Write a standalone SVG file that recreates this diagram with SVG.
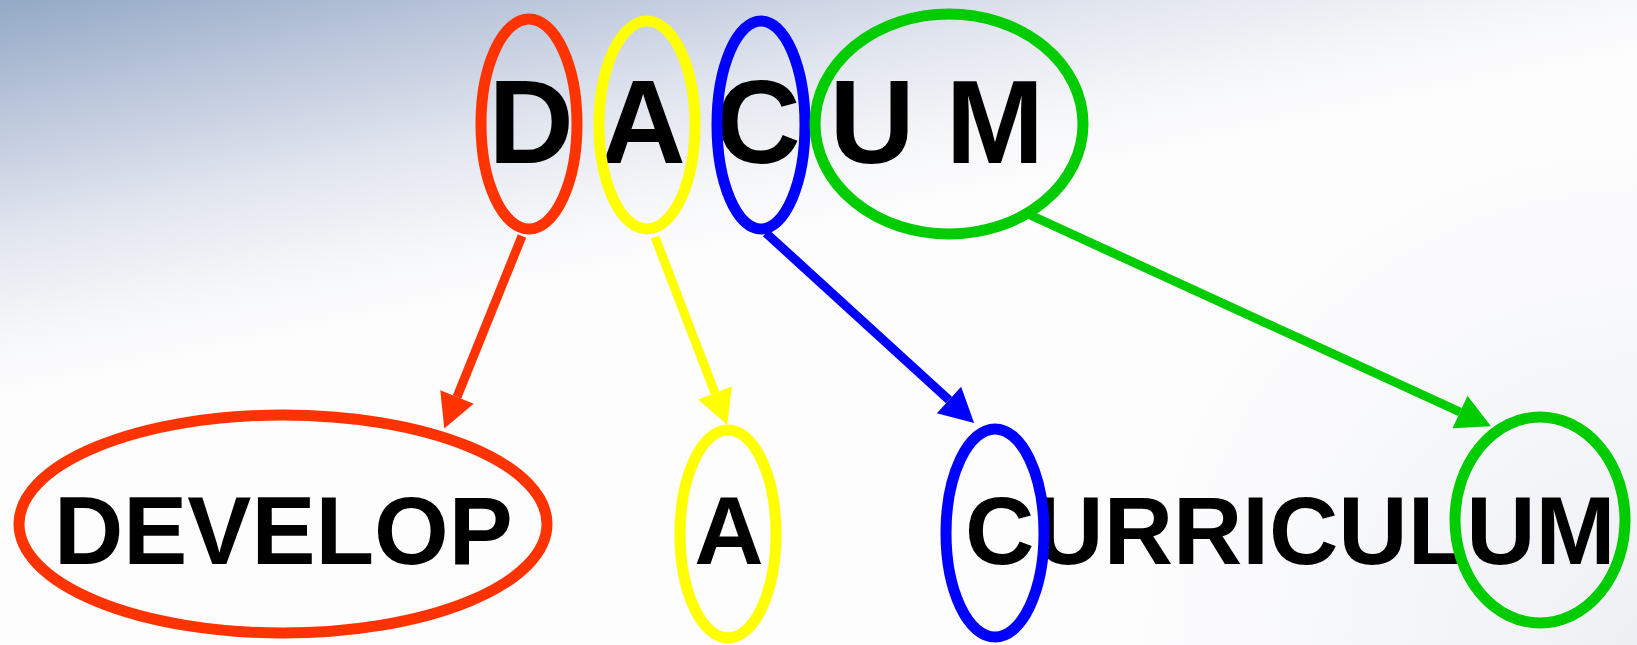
<svg xmlns="http://www.w3.org/2000/svg" width="1637" height="645" viewBox="0 0 1637 645">
  <defs>
    <linearGradient id="bg" gradientUnits="userSpaceOnUse" x1="0" y1="0" x2="80" y2="380">
      <stop offset="0" stop-color="#93a9c5"/>
      <stop offset="0.3" stop-color="#bdc8dc"/>
      <stop offset="0.6" stop-color="#e2e6ef"/>
      <stop offset="0.85" stop-color="#f6f7f9"/>
      <stop offset="1" stop-color="#fdfdfe"/>
    </linearGradient>
    <radialGradient id="corner" gradientUnits="userSpaceOnUse" cx="1637" cy="645" r="500">
      <stop offset="0" stop-color="#e4e7ee" stop-opacity="0.6"/>
      <stop offset="1" stop-color="#e4e7ee" stop-opacity="0"/>
    </radialGradient>
    <marker id="head-red" markerUnits="userSpaceOnUse" markerWidth="40" markerHeight="40" refX="0" refY="0" orient="auto" overflow="visible">
      <path d="M0,-18 L34,0 L0,18 Z" fill="#ff3300"/>
    </marker>
    <marker id="head-yellow" markerUnits="userSpaceOnUse" markerWidth="40" markerHeight="40" refX="0" refY="0" orient="auto" overflow="visible">
      <path d="M0,-18 L34,0 L0,18 Z" fill="#ffff00"/>
    </marker>
    <marker id="head-blue" markerUnits="userSpaceOnUse" markerWidth="40" markerHeight="40" refX="0" refY="0" orient="auto" overflow="visible">
      <path d="M0,-18 L34,0 L0,18 Z" fill="#0000ff"/>
    </marker>
    <marker id="head-green" markerUnits="userSpaceOnUse" markerWidth="40" markerHeight="40" refX="0" refY="0" orient="auto" overflow="visible">
      <path d="M0,-18 L34,0 L0,18 Z" fill="#00cc00"/>
    </marker>
  </defs>
  <style>
    .ring { fill: none; stroke-width: 11; }
    .big { font-family: "Liberation Sans", Arial, sans-serif; font-weight: bold; font-size: 118px; fill: #000; }
    .word { font-family: "Liberation Sans", Arial, sans-serif; font-weight: bold; font-size: 96px; fill: #000; }
    .link { fill: none; stroke-width: 9; }
    .red { stroke: #ff3300; }
    .yellow { stroke: #ffff00; }
    .blue { stroke: #0000ff; }
    .green { stroke: #00cc00; }
  </style>

  <rect x="0" y="0" width="1637" height="645" fill="url(#bg)"/>
  <rect x="0" y="0" width="1637" height="645" fill="url(#corner)"/>

  <!-- acronym letters -->
  <g id="acronym">
    <text class="big" x="531" y="163" text-anchor="middle">D</text>
    <text class="big" x="643" y="163" text-anchor="middle">A</text>
    <text class="big" x="758" y="163" text-anchor="middle">C</text>
    <text class="big" x="872" y="163" text-anchor="middle">U</text>
    <text class="big" x="995" y="163" text-anchor="middle">M</text>
  </g>

  <g id="node-d"><ellipse class="ring red" cx="529" cy="124" rx="48" ry="105"/></g>
  <g id="node-a"><ellipse class="ring yellow" cx="647" cy="125" rx="48" ry="104"/></g>
  <g id="node-c"><ellipse class="ring blue" cx="761" cy="125" rx="44" ry="104"/></g>
  <g id="node-um"><ellipse class="ring green" cx="949" cy="124" rx="134" ry="110"/></g>

  <!-- expanded words -->
  <g id="node-develop">
    <ellipse class="ring red" cx="283" cy="524" rx="264" ry="109"/>
    <text class="word" x="54" y="564">DEVELOP</text>
  </g>
  <g id="node-a-word">
    <ellipse class="ring yellow" cx="728" cy="534" rx="48" ry="104"/>
    <text class="word" x="729" y="564" text-anchor="middle">A</text>
  </g>
  <g id="node-curriculum">
    <text class="word" x="965" y="564">CURRICULUM</text>
    <ellipse class="ring blue" cx="995" cy="533" rx="49" ry="104"/>
    <ellipse class="ring green" cx="1540" cy="520" rx="85" ry="103"/>
  </g>

  <g id="connectors">
    <line class="link red" x1="522" y1="236" x2="457" y2="397" marker-end="url(#head-red)"/>
    <line class="link yellow" x1="655" y1="237" x2="715" y2="393" marker-end="url(#head-yellow)"/>
    <line class="link blue" x1="766" y1="233" x2="949" y2="400" marker-end="url(#head-blue)"/>
    <line class="link green" x1="1028" y1="214" x2="1460" y2="412" marker-end="url(#head-green)" stroke-width="10"/>
  </g>
</svg>
